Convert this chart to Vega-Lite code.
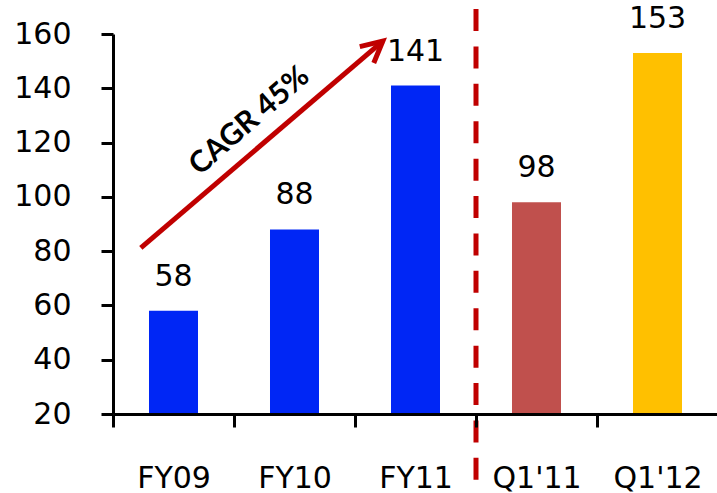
{
  "$schema": "https://vega.github.io/schema/vega-lite/v6.json",
  "width": 605,
  "height": 380,
  "autosize": {"type": "none"},
  "padding": {"left": 113, "top": 34, "right": 0, "bottom": 79},
  "background": "white",
  "config": {"view": {"stroke": null}, "font": "DejaVu Sans"},
  "datasets": {
    "revenue": [
      {"period": "FY09", "value": 58, "group": "annual"},
      {"period": "FY10", "value": 88, "group": "annual"},
      {"period": "FY11", "value": 141, "group": "annual"},
      {"period": "Q1'11", "value": 98, "group": "q1_prev"},
      {"period": "Q1'12", "value": 153, "group": "q1_curr"}
    ],
    "trend": [
      {"period": "FY09", "value": 81.2},
      {"period": "FY11", "value": 157.4}
    ],
    "trend_head": [
      {"period": "FY11", "value": 157.4}
    ],
    "note": [
      {"period": "FY10", "value": 128, "label": "CAGR 45%"}
    ],
    "divider": [
      {"period": "Q1'11"}
    ]
  },
  "layer": [
    {
      "data": {"name": "revenue"},
      "mark": {"type": "bar", "width": {"band": 0.405}},
      "encoding": {
        "x": {
          "field": "period",
          "type": "nominal",
          "sort": null,
          "scale": {
            "domain": ["FY09", "FY10", "FY11", "Q1'11", "Q1'12"],
            "paddingInner": 0,
            "paddingOuter": 0
          },
          "axis": {
            "title": null,
            "labelAngle": 0,
            "labelFont": "DejaVu Sans",
            "labelFontSize": 30,
            "labelColor": "black",
            "labelPadding": 36,
            "tickBand": "extent",
            "tickSize": 13,
            "tickWidth": 3,
            "tickColor": "black",
            "domainWidth": 3,
            "domainColor": "black",
            "zindex": 1
          }
        },
        "y": {
          "field": "value",
          "type": "quantitative",
          "scale": {"domain": [20, 160], "nice": false, "zero": false},
          "axis": {
            "title": null,
            "values": [20, 40, 60, 80, 100, 120, 140, 160],
            "grid": false,
            "labelFont": "DejaVu Sans",
            "labelFontSize": 30,
            "labelColor": "black",
            "labelPadding": 30,
            "tickSize": 12,
            "tickWidth": 3,
            "tickColor": "black",
            "domainWidth": 3,
            "domainColor": "black",
            "zindex": 1
          }
        },
        "y2": {"datum": 20},
        "color": {
          "field": "group",
          "type": "nominal",
          "scale": {
            "domain": ["annual", "q1_prev", "q1_curr"],
            "range": ["#0026F5", "#C0504D", "#FFC000"]
          },
          "legend": null
        }
      }
    },
    {
      "data": {"name": "revenue"},
      "mark": {
        "type": "text",
        "baseline": "alphabetic",
        "align": "center",
        "dy": -25,
        "fontSize": 30,
        "font": "DejaVu Sans",
        "color": "black"
      },
      "encoding": {
        "x": {"field": "period", "type": "nominal", "sort": null},
        "y": {"field": "value", "type": "quantitative"},
        "text": {"field": "value", "type": "quantitative"}
      }
    },
    {
      "data": {"name": "divider"},
      "mark": {
        "type": "rule",
        "color": "#C00000",
        "strokeWidth": 5,
        "strokeDash": [22, 15.4]
      },
      "encoding": {
        "x": {"field": "period", "type": "nominal", "bandPosition": 0},
        "y": {"datum": 169.2},
        "y2": {"datum": -10}
      }
    },
    {
      "data": {"name": "trend"},
      "mark": {
        "type": "line",
        "color": "#C00000",
        "strokeWidth": 5,
        "strokeCap": "butt"
      },
      "encoding": {
        "x": {"field": "period", "type": "nominal", "bandPosition": 0.23},
        "y": {"field": "value", "type": "quantitative"}
      }
    },
    {
      "data": {"name": "trend_head"},
      "mark": {
        "type": "point",
        "shape": "M-0.454,0.891L0,0L0.454,0.891",
        "size": 2247,
        "filled": false,
        "stroke": "#C00000",
        "strokeWidth": 5,
        "strokeJoin": "miter",
        "strokeCap": "butt",
        "opacity": 1,
        "angle": 49.5
      },
      "encoding": {
        "x": {"field": "period", "type": "nominal", "bandPosition": 0.23},
        "y": {"field": "value", "type": "quantitative"}
      }
    },
    {
      "data": {"name": "note"},
      "mark": {
        "type": "text",
        "angle": -41,
        "align": "center",
        "baseline": "middle",
        "font": "Lato",
        "fontWeight": "bold",
        "fontSize": 30,
        "color": "black"
      },
      "encoding": {
        "x": {"field": "period", "type": "nominal", "bandPosition": 0.128},
        "y": {"field": "value", "type": "quantitative"},
        "text": {"field": "label"}
      }
    }
  ]
}
